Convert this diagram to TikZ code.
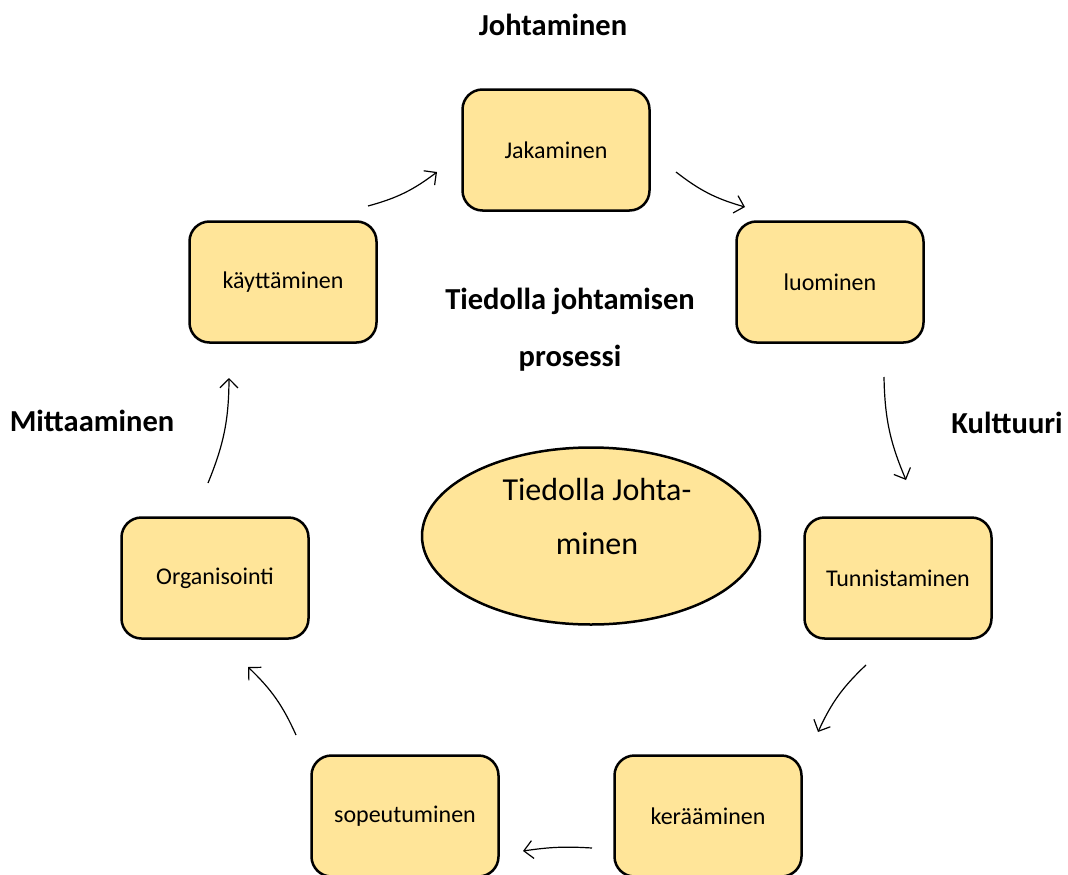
\documentclass[tikz,border=0pt]{standalone}
\usepackage{fontspec}
\setmainfont{Carlito}
\usetikzlibrary{arrows.meta,shapes.geometric}
\definecolor{boxfill}{HTML}{FFE599}
\tikzset{
  stage/.style={draw=black, line width=2.5pt, fill=boxfill, rounded corners=20pt,
    minimum width=187pt, minimum height=121pt, inner sep=0pt, font=\fontsize{24}{28}\selectfont},
  hub/.style={draw=black, line width=2.5pt, fill=boxfill, ellipse,
    minimum width=338pt, minimum height=177pt, inner sep=0pt},
  hubtext/.style={align=center, font=\fontsize{32}{54}\selectfont, inner sep=0pt},
  heading/.style={font=\bfseries\fontsize{30.5}{57}\selectfont, align=center},
  flow/.style={line width=1.2pt, -{Straight Barb[length=9pt,width=18pt,line width=1.2pt]}, bend right=11}
}
\begin{document}
\begin{tikzpicture}[x=1pt,y=-1pt]
\useasboundingbox (0,0) rectangle (1068,875);
\node[stage] (jak) at (556,150) {Jakaminen};
\node[stage] (luo) at (830,282) {luominen};
\node[stage] (kay) at (283,282) {käyttäminen};
\node[stage] (org) at (215,578) {Organisointi};
\node[stage] (tun) at (898,578) {Tunnistaminen};
\node[stage] (sop) at (405,816) {sopeutuminen};
\node[stage] (ker) at (708,816) {kerääminen};
\node[hub] (hub) at (591,536) {};
\node[hubtext] (hubt) at (597,516) {Tiedolla Johta-\\minen};
\node[heading] (proc) at (570,330) {Tiedolla johtamisen\\prosessi};
\node[heading] (joh) at (553,25) {Johtaminen};
\node[heading] (mit) at (92,421) {Mittaaminen};
\node[heading] (kul) at (1007,423) {Kulttuuri};
\coordinate (a1s) at (368,206); \coordinate (a1e) at (437,172);
\coordinate (a2s) at (676,172); \coordinate (a2e) at (745,207);
\coordinate (a3s) at (884,377); \coordinate (a3e) at (906,480);
\coordinate (a4s) at (866,665); \coordinate (a4e) at (818,732);
\coordinate (a5s) at (592,848); \coordinate (a5e) at (523,851);
\coordinate (a6s) at (296,735); \coordinate (a6e) at (248,667);
\coordinate (a7s) at (208,483); \coordinate (a7e) at (229,378);
\draw[flow] (a1s) to (a1e);
\draw[flow] (a2s) to (a2e);
\draw[flow] (a3s) to (a3e);
\draw[flow] (a4s) to (a4e);
\draw[flow,bend right=6] (a5s) to (a5e);
\draw[flow] (a6s) to (a6e);
\draw[flow] (a7s) to (a7e);
\end{tikzpicture}
\end{document}
